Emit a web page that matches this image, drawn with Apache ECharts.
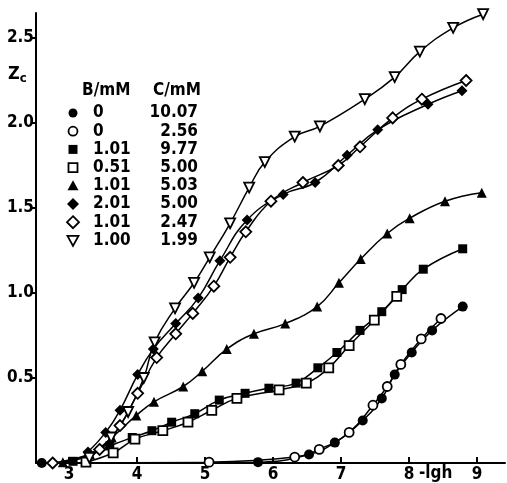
<!DOCTYPE html>
<html>
<head>
<meta charset="utf-8">
<script src="https://cdn.jsdelivr.net/npm/echarts@6/dist/echarts.min.js"></script>
<style>
html, body { margin: 0; padding: 0; background: #fff; }
#chart { width: 507px; height: 483px; }
</style>
</head>
<body>
<div id="chart"></div>
<script>
// axis ticks
var xTicks = [3, 4, 5, 6, 7, 8, 9];
var yTicks = [0.5, 1.0, 1.5, 2.0, 2.5];

// legend table: B/mM and C/mM
var bValues = ['0', '0', '1.01', '0.51', '1.01', '2.01', '1.01', '1.00'];
var cValues = ['10.07', '2.56', '9.77', '5.00', '5.03', '5.00', '2.47', '1.99'];

// series [-lgh, Zc]
var filledCircle = [[2.60, 0.0], [5.78, 0.005], [6.53, 0.05], [6.91, 0.12], [7.32, 0.25], [7.60, 0.38],
    [7.79, 0.52], [8.04, 0.65], [8.34, 0.78], [8.79, 0.92]];
var openCircle = [[5.06, 0.005], [6.32, 0.035], [6.68, 0.08], [7.12, 0.18], [7.47, 0.34], [7.68, 0.45],
    [7.88, 0.58], [8.18, 0.73], [8.47, 0.85]];
var filledSquare = [[3.06, 0.01], [3.60, 0.10], [3.93, 0.15], [4.22, 0.19], [4.51, 0.24], [4.85, 0.29],
    [5.21, 0.37], [5.59, 0.41], [5.94, 0.44], [6.34, 0.47], [6.66, 0.56], [6.94, 0.65], [7.28, 0.78],
    [7.60, 0.89], [7.90, 1.02], [8.21, 1.14], [8.79, 1.26]];
var openSquare = [[3.25, 0.005], [3.65, 0.06], [3.97, 0.14], [4.38, 0.19], [4.75, 0.24], [5.10, 0.31],
    [5.47, 0.38], [6.09, 0.43], [6.49, 0.47], [6.82, 0.56], [7.12, 0.69], [7.49, 0.84], [7.82, 0.98]];
var filledTriangle = [[2.91, 0.005], [3.31, 0.05], [3.63, 0.15], [3.99, 0.28], [4.25, 0.36], [4.68, 0.45],
    [4.96, 0.54], [5.32, 0.67], [5.72, 0.76], [6.18, 0.82], [6.65, 0.92], [6.97, 1.06], [7.29, 1.20],
    [7.68, 1.35], [8.01, 1.44], [8.53, 1.54], [9.07, 1.59]];
var filledDiamond = [[3.28, 0.065], [3.54, 0.18], [3.75, 0.31], [4.01, 0.52], [4.24, 0.67], [4.57, 0.82],
    [4.90, 0.97], [5.22, 1.19], [5.62, 1.43], [6.15, 1.58], [6.62, 1.65], [7.09, 1.81], [7.54, 1.96],
    [8.28, 2.11], [8.78, 2.19]];
var openDiamond = [[2.76, 0.0], [3.45, 0.08], [3.75, 0.22], [4.01, 0.41], [4.29, 0.62], [4.57, 0.76],
    [4.82, 0.88], [5.13, 1.04], [5.37, 1.21], [5.60, 1.36], [5.97, 1.54], [6.44, 1.65], [6.96, 1.75],
    [7.28, 1.86], [7.76, 2.03], [8.19, 2.14], [8.84, 2.25]];
var openNabla = [[3.30, 0.03], [3.62, 0.15], [3.87, 0.30], [4.10, 0.50], [4.26, 0.71], [4.56, 0.91],
    [4.84, 1.06], [5.07, 1.21], [5.37, 1.41], [5.65, 1.62], [5.88, 1.77], [6.32, 1.92], [6.69, 1.98],
    [7.35, 2.14], [7.79, 2.27], [8.16, 2.42], [8.65, 2.56], [9.09, 2.64]];

var FONT = '"Liberation Sans Narrow", "DejaVu Sans Condensed", "Liberation Sans", sans-serif';

var styles = [
    { data: filledCircle, symbol: 'circle', open: false, size: 10, icon: 'circle' },
    { data: openCircle, symbol: 'circle', open: true, size: 9, icon: 'circle' },
    { data: filledSquare, symbol: 'rect', open: false, size: 9, icon: 'rect' },
    { data: openSquare, symbol: 'rect', open: true, size: 9, icon: 'rect' },
    { data: filledTriangle, symbol: 'triangle', open: false, size: 10, icon: 'triangle' },
    { data: filledDiamond, symbol: 'diamond', open: false, size: 11, icon: 'diamond' },
    { data: openDiamond, symbol: 'diamond', open: true, size: 11, icon: 'diamond' },
    { data: openNabla, symbol: 'triangle', rotate: 180, open: true, size: 10, icon: 'nabla' }
];

var series = styles.map(function(s, i) {
    return {
        name: bValues[i] + ' / ' + cValues[i],
        type: 'line',
        smooth: 0.45,
        data: s.data,
        symbol: s.symbol,
        symbolSize: s.size,
        symbolRotate: s.rotate || 0,
        showAllSymbol: true,
        lineStyle: { color: '#000', width: 1.5 },
        itemStyle: {
            color: s.open ? '#fff' : '#000',
            borderColor: '#000',
            borderWidth: s.open ? 1.8 : 0
        },
        z: s.open ? 3 : 2
    };
});

// legend table drawn as graphics
var graphics = [];
var rowY0 = 113, rowStep = 18.2;
function icon(kind, open, cx, cy) {
    var st = { fill: open ? '#fff' : '#000', stroke: '#000', lineWidth: open ? 1.8 : 0 };
    if (kind === 'circle') return { type: 'circle', shape: { cx: cx, cy: cy, r: 4.5 }, style: st };
    if (kind === 'rect') return { type: 'rect', shape: { x: cx - 4.5, y: cy - 4.5, width: 9, height: 9 }, style: st };
    if (kind === 'triangle') return { type: 'polygon', shape: { points: [[cx, cy - 5.5], [cx + 5.5, cy + 4.5], [cx - 5.5, cy + 4.5]] }, style: st };
    if (kind === 'nabla') return { type: 'polygon', shape: { points: [[cx - 5.5, cy - 4.5], [cx + 5.5, cy - 4.5], [cx, cy + 5.5]] }, style: st };
    return { type: 'polygon', shape: { points: [[cx, cy - 6], [cx + 6, cy], [cx, cy + 6], [cx - 6, cy]] }, style: st };
}
var txt = { fontFamily: FONT, fontWeight: 'bold', fontSize: 17, fill: '#000' };
graphics.push({ type: 'text', left: 82, top: 82, style: Object.assign({ text: 'B/mM' }, txt) });
graphics.push({ type: 'text', left: 153, top: 82, style: Object.assign({ text: 'C/mM' }, txt) });
styles.forEach(function(s, i) {
    var y = rowY0 + i * rowStep;
    graphics.push(icon(s.icon, s.open, 73, y));
    graphics.push({ type: 'text', x: 93, y: y, style: Object.assign({ text: bValues[i], verticalAlign: 'middle' }, txt) });
    graphics.push({ type: 'text', x: 198, y: y, style: Object.assign({ text: cValues[i], align: 'right', verticalAlign: 'middle' }, txt) });
});
graphics.push({
    type: 'text', x: 8, y: 64,
    style: {
        text: '{z|Z}{c|c}',
        rich: {
            z: { fontFamily: FONT, fontWeight: 'bold', fontSize: 18, fill: '#000' },
            c: { fontFamily: FONT, fontWeight: 'bold', fontSize: 13, fill: '#000', padding: [8, 0, 0, 0] }
        }
    }
});
graphics.push({ type: 'text', x: 419, y: 465, style: Object.assign({ text: '-lgh' }, txt) });

var chart = echarts.init(document.getElementById('chart'));
chart.setOption({
    animation: false,
    backgroundColor: '#fff',
    grid: { left: 36, right: 2, top: 13, bottom: 20 },
    xAxis: {
        type: 'value',
        min: 2.515,
        max: 9.412,
        axisLine: { lineStyle: { color: '#000', width: 2 } },
        axisTick: { inside: true, length: 6, customValues: xTicks, lineStyle: { color: '#000', width: 2 } },
        axisLabel: {
            customValues: xTicks, margin: 3, color: '#000',
            fontFamily: FONT, fontWeight: 'bold', fontSize: 17
        },
        splitLine: { show: false }
    },
    yAxis: {
        type: 'value',
        min: 0,
        max: 2.647,
        axisLine: { show: true, lineStyle: { color: '#000', width: 2 } },
        axisTick: { show: true, length: 4, customValues: yTicks, lineStyle: { color: '#000', width: 2 } },
        axisLabel: {
            customValues: yTicks, margin: 2, color: '#000',
            fontFamily: FONT, fontWeight: 'bold', fontSize: 17,
            formatter: function(v) { return v.toFixed(1); }
        },
        splitLine: { show: false }
    },
    graphic: graphics,
    series: series
});
</script>
</body>
</html>
